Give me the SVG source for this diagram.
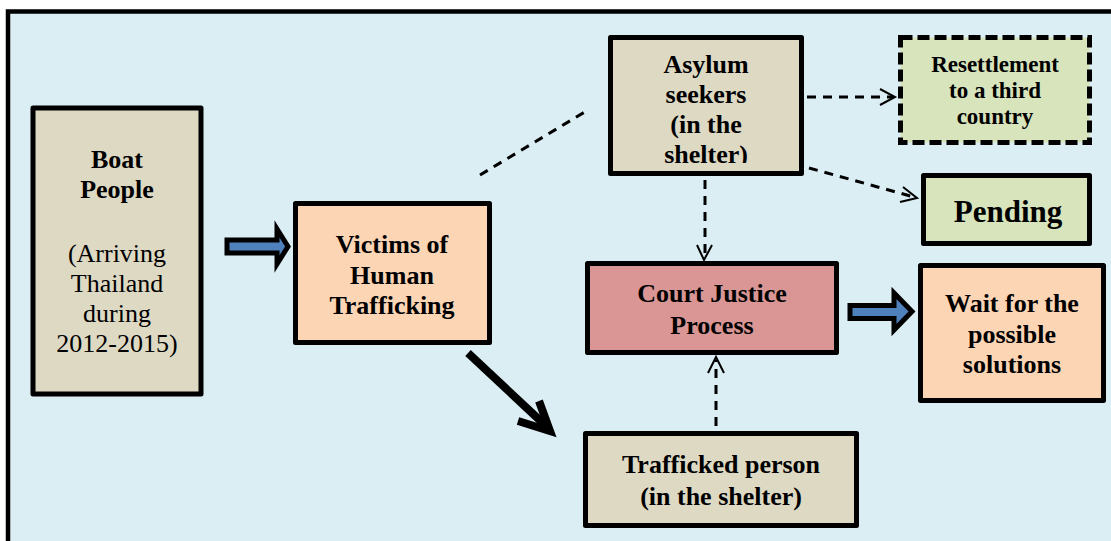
<svg xmlns="http://www.w3.org/2000/svg" width="1111" height="541" viewBox="0 0 1111 541">
<defs>
<style>
.box{stroke:#000;stroke-width:5;stroke-linejoin:round}
.tan{fill:#DDD9C3}
.peach{fill:#FCD5B4}
.green{fill:#D7E4BC}
.red{fill:#D99694}
.t{font-family:"Liberation Serif","Times New Roman",serif;font-size:26px;fill:#000;text-anchor:middle}
.b{font-weight:bold}
.s{font-size:23px}
.dash{stroke:#000;stroke-width:3;fill:none;stroke-dasharray:9 7}
.head{stroke:#000;stroke-width:2;fill:none}
.blk{fill:#4F81BD;stroke:#000;stroke-width:5;stroke-linejoin:miter}
</style>
<clipPath id="asyClip"><rect x="613" y="40" width="186" height="123"/></clipPath>
</defs>
<rect x="0" y="0" width="1111" height="541" fill="#fff"/>
<rect x="8" y="11.5" width="1120" height="560" fill="#DAEEF3" stroke="#000" stroke-width="4.5"/>

<g id="connectors">
<polygon class="blk" points="227,240 277,240 277,229 288,246.5 277,264 277,253 227,253"/>
<polygon class="blk" points="850,305.5 894,305.5 894,293 912,311.5 894,330 894,318.5 850,318.5"/>
<line class="dash" x1="480" y1="175" x2="588" y2="110"/>
<line class="dash" x1="807" y1="97" x2="893" y2="97"/>
<polyline class="head" points="880,89 895,97 880,105"/>
<line class="dash" x1="809" y1="168" x2="914" y2="197"/>
<polyline class="head" points="903,187 917,198 900,202"/>
<line class="dash" x1="705" y1="180" x2="705" y2="258"/>
<polyline class="head" points="697,245 704,260 712,245"/>
<line class="dash" x1="716" y1="426" x2="716" y2="360"/>
<polyline class="head" points="708,373 716,357 724,373"/>
<line x1="468" y1="353" x2="546" y2="426" stroke="#000" stroke-width="8"/>
<polyline points="518,421 550,431 539,401" fill="none" stroke="#000" stroke-width="8" stroke-linejoin="miter"/>
</g>

<g id="boat">
<rect class="box tan" x="33" y="108" width="168" height="286"/>
<text class="t b" x="117" y="168">Boat</text>
<text class="t b" x="117" y="198">People</text>
<text class="t" x="117" y="262">(Arriving</text>
<text class="t" x="117" y="292">Thailand</text>
<text class="t" x="117" y="322">during</text>
<text class="t" x="117" y="352">2012-2015)</text>
</g>

<g id="victims">
<rect class="box peach" x="295.5" y="203.5" width="194" height="139"/>
<text class="t b" x="392" y="253">Victims of</text>
<text class="t b" x="392" y="284">Human</text>
<text class="t b" x="392" y="314">Trafficking</text>
</g>

<g id="asylum">
<rect class="box tan" x="610.5" y="37.5" width="191" height="136"/>
<g clip-path="url(#asyClip)">
<text class="t b" x="706" y="73">Asylum</text>
<text class="t b" x="706" y="103">seekers</text>
<text class="t b" x="706" y="133">(in the</text>
<text class="t b" x="706" y="163">shelter)</text>
</g>
</g>

<g id="resettlement">
<rect class="green" x="900.5" y="37.5" width="189" height="105" stroke="#000" stroke-width="5" stroke-dasharray="12 5"/>
<text class="t b s" x="995" y="72">Resettlement</text>
<text class="t b s" x="995" y="98">to a third</text>
<text class="t b s" x="995" y="124">country</text>
</g>

<g id="pending">
<rect class="box green" x="923.5" y="175.5" width="166" height="68"/>
<text class="t b" x="1008" y="222" style="font-size:31px">Pending</text>
</g>

<g id="court">
<rect class="box red" x="587.5" y="263.5" width="249" height="89"/>
<text class="t b" x="712" y="302">Court Justice</text>
<text class="t b" x="712" y="334">Process</text>
</g>

<g id="wait">
<rect class="box peach" x="920.5" y="265.5" width="183" height="135"/>
<text class="t b" x="1012" y="312">Wait for the</text>
<text class="t b" x="1012" y="343">possible</text>
<text class="t b" x="1012" y="373">solutions</text>
</g>

<g id="trafficked">
<rect class="box tan" x="585.5" y="433.5" width="271" height="92"/>
<text class="t b" x="721" y="473">Trafficked person</text>
<text class="t b" x="721" y="505">(in the shelter)</text>
</g>
</svg>
